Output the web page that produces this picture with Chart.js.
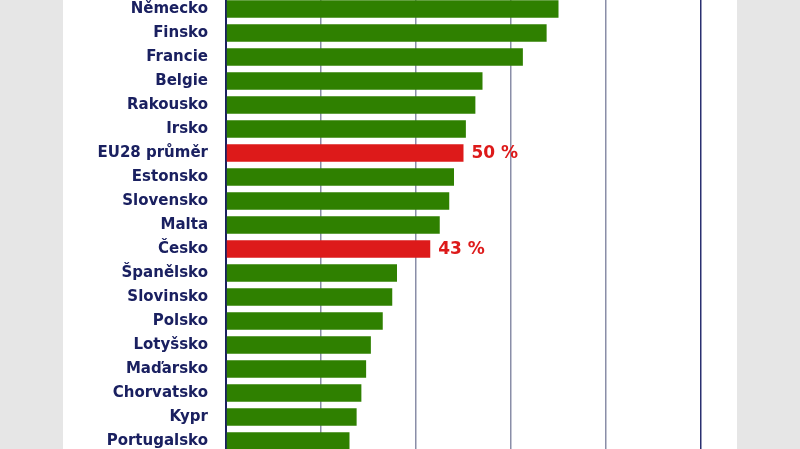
<!DOCTYPE html>
<html><head><meta charset="UTF-8">
<script src="https://cdn.jsdelivr.net/npm/chart.js"></script>
<style>
html,body{margin:0;padding:0;background:#e6e6e6;width:800px;height:449px;overflow:hidden}
#panel{position:absolute;left:63px;top:0;width:674px;height:449px;background:#fff}
#wrap{position:absolute;left:0;top:-22px;width:800px;height:494px}
</style></head><body>
<div id="panel"></div>
<div id="wrap"><canvas id="c"></canvas></div>
<script>
const countries = ['Německo','Finsko','Francie','Belgie','Rakousko','Irsko','EU28 průměr','Estonsko','Slovensko','Malta','Česko','Španělsko','Slovinsko','Polsko','Lotyšsko','Maďarsko','Chorvatsko','Kypr','Portugalsko'];
const values = [70,67.5,62.5,54,52.5,50.5,50,48,47,45,43,36,35,33,30.5,29.5,28.5,27.5,26];
const highlighted = ['EU28 průměr','Česko'];
const valueLabels = {'EU28 průměr':'50 %','Česko':'43 %'};

const colors = countries.map(c => highlighted.includes(c) ? '#dd1a1a' : '#2f8000');

const labelPlugin = {
  id: 'vals',
  afterDatasetsDraw(chart) {
    const ctx = chart.ctx;
    const meta = chart.getDatasetMeta(0);
    ctx.save();
    ctx.font = 'bold 17px "DejaVu Sans"';
    ctx.fillStyle = '#dd1a1a';
    ctx.textBaseline = 'middle';
    meta.data.forEach((bar, i) => {
      const t = valueLabels[countries[i]];
      if (t) ctx.fillText(t, bar.x + 8, bar.y + 1);
    });
    ctx.restore();
  }
};

new Chart(document.getElementById('c'), {
  type: 'bar',
  data: { labels: countries, datasets: [{ data: values, backgroundColor: colors, barPercentage: 0.72, categoryPercentage: 1 }] },
  options: {
    indexAxis: 'y', responsive: true, maintainAspectRatio: false, animation: false,
    layout: { padding: { left: 0, right: 99, top: 0, bottom: 0 } },
    plugins: { legend: { display: false }, tooltip: { enabled: false } },
    scales: {
      x: { min: 0, max: 100, position: 'top',
        ticks: { display: false, stepSize: 20 },
        border: { display: false },
        grid: { drawTicks: false, lineWidth: 1.5,
          color: ctx => ctx.tick.value === 0 ? '#1a2060' : (ctx.tick.value === 100 ? '#2a3070' : '#8a8ea8') } },
      y: {
        afterFit(s) { s.width = 226; },
        border: { color: '#1a2060', width: 2 },
        grid: { display: false },
        ticks: { color: '#1a2060', padding: 10, font: { family: '"DejaVu Sans"', size: 15, weight: 'bold' } }
      }
    }
  },
  plugins: [labelPlugin]
});
</script>
</body></html>
